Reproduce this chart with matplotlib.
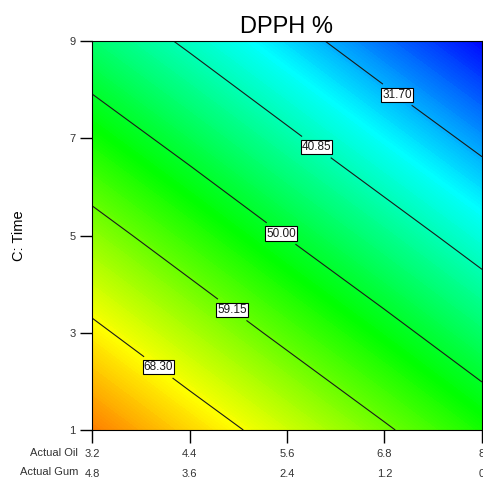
import numpy as np
import matplotlib
matplotlib.use("Agg")
import matplotlib.pyplot as plt
from matplotlib.colors import LinearSegmentedColormap, Normalize

plt.rcParams["font.family"] = ["Liberation Sans", "DejaVu Sans"]

# Osie (wartosci rzeczywiste)
oil_ticks = [3.2, 4.4, 5.6, 6.8, 8.0]
gum_ticks = ["4.8", "3.6", "2.4", "1.2", "0"]
time_ticks = [1, 3, 5, 7, 9]

dpph_grid = [
    [77.4, 71.5, 65.7, 59.8, 53.9],
    [69.5, 63.6, 57.7, 51.9, 46.0],
    [61.6, 55.7, 49.8, 44.0, 38.1],
    [53.6, 47.8, 41.9, 36.0, 30.2],
    [45.7, 39.9, 34.0, 28.1, 22.3],
]

# Poziomy konturow i miejsca etykiet
levels = [31.70, 40.85, 50.00, 59.15, 68.30]
label_pos = [(7.02, 8.04), (5.98, 6.86), (5.58, 5.16), (4.96, 3.55), (4.04, 2.34)]


def main():
    fig = plt.figure(figsize=(4.83, 4.79), dpi=100)
    ax = fig.add_axes([92 / 483, 49 / 479, 390 / 483, 389 / 479])

    X, Y = np.meshgrid(oil_ticks, time_ticks)
    Z = np.array(dpph_grid)

    # Mapa kolorow w stylu Design-Expert
    cmap = LinearSegmentedColormap.from_list(
        "de", [(0.0, "#0000ff"), (0.22, "#00ffff"), (0.48, "#00ff00"),
               (0.73, "#ffff00"), (1.0, "#ff0000")])
    norm = Normalize(vmin=22, vmax=86)
    ax.contourf(X, Y, Z, levels=np.linspace(22, 78, 200), cmap=cmap, norm=norm,
                antialiased=False)

    cs = ax.contour(X, Y, Z, levels=levels, colors="#1a1a1a", linewidths=0.8)
    labels = ax.clabel(cs, fmt="%.2f", manual=label_pos, inline=True,
                       inline_spacing=3, fontsize=8.5)
    for t in labels:
        t.set_bbox(dict(facecolor="white", edgecolor="black", pad=0.8, linewidth=0.8))
        t.set_rotation(0)

    ax.set_xlim(3.2, 8)
    ax.set_ylim(1, 9)
    ax.set_xticks(oil_ticks)
    ax.set_xticklabels([f"{o:g}\n{g}" for o, g in zip(oil_ticks, gum_ticks)],
                       fontsize=8, linespacing=2.25, color="#333333")
    ax.set_yticks(time_ticks)
    ax.set_yticklabels([str(t) for t in time_ticks], fontsize=8, color="#333333")
    ax.tick_params(direction="out", length=9, width=1, pad=3)
    ax.tick_params(axis="x", pad=5)
    for s in ax.spines.values():
        s.set_linewidth(0.8)

    ax.set_title("DPPH %", fontsize=17, pad=6)
    ax.set_ylabel("C: Time", fontsize=10.5, labelpad=31)

    fig.text(78 / 483, 1 - 453 / 479, "Actual Oil", fontsize=8, ha="right",
             va="center", color="#333333")
    fig.text(78 / 483, 1 - 472 / 479, "Actual Gum", fontsize=8, ha="right",
             va="center", color="#333333")

    fig.savefig("out.png", dpi=100)


if __name__ == "__main__":
    main()
